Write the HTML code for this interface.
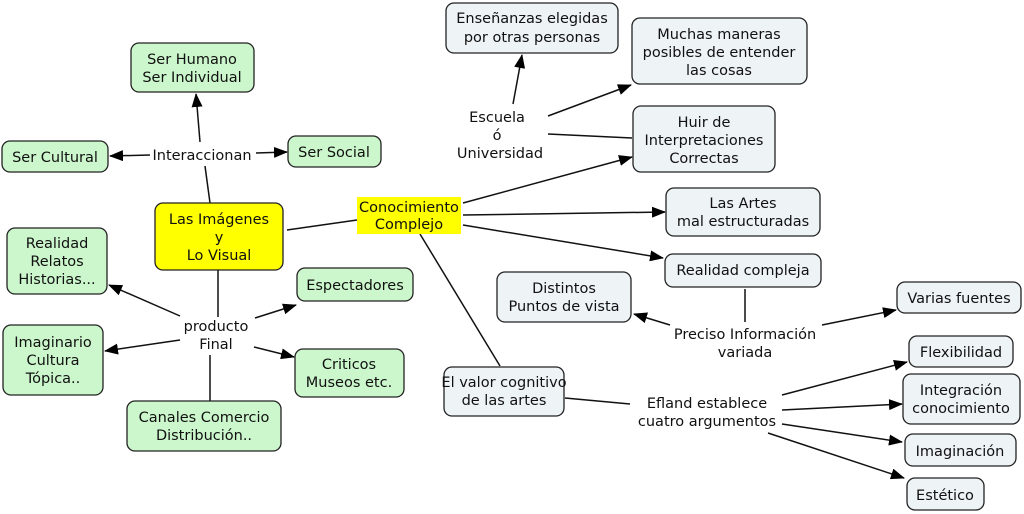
<!DOCTYPE html>
<html><head><meta charset="utf-8"><style>
html,body{margin:0;padding:0;background:#fff;}
svg{display:block}
text{font-family:"DejaVu Sans","Liberation Sans",sans-serif;font-size:14.5px;fill:#111;text-anchor:middle}
.g{fill:#ccf7cc;stroke:#222;stroke-width:1.3}
.b{fill:#eef3f6;stroke:#222;stroke-width:1.3}
.y{fill:#ffff00;stroke:#222;stroke-width:1.3}
line{stroke:#111;stroke-width:1.5}
</style></head><body>
<svg width="1024" height="514" viewBox="0 0 1024 514">
<defs><marker id="a" markerWidth="14" markerHeight="11" refX="13" refY="5.5" orient="auto" markerUnits="userSpaceOnUse"><path d="M0,0 L14,5.5 L0,11 Z" fill="#000"/></marker></defs>
<line x1="210" y1="203" x2="205" y2="166"/>
<line x1="200" y1="142" x2="196" y2="94" marker-end="url(#a)"/>
<line x1="150" y1="155" x2="110" y2="156" marker-end="url(#a)"/>
<line x1="256" y1="153" x2="287" y2="152" marker-end="url(#a)"/>
<line x1="218" y1="270" x2="218" y2="317"/>
<line x1="180" y1="316" x2="109" y2="285" marker-end="url(#a)"/>
<line x1="180" y1="340" x2="105" y2="351" marker-end="url(#a)"/>
<line x1="255" y1="318" x2="296" y2="305" marker-end="url(#a)"/>
<line x1="254" y1="347" x2="294" y2="357" marker-end="url(#a)"/>
<line x1="210" y1="355" x2="210" y2="401"/>
<line x1="287" y1="230" x2="357" y2="220"/>
<line x1="463" y1="203" x2="632" y2="157" marker-end="url(#a)"/>
<line x1="463" y1="215" x2="665" y2="212" marker-end="url(#a)"/>
<line x1="463" y1="225" x2="663" y2="258" marker-end="url(#a)"/>
<line x1="420" y1="234" x2="500" y2="366"/>
<line x1="513" y1="104" x2="522" y2="55" marker-end="url(#a)"/>
<line x1="548" y1="116" x2="631" y2="85" marker-end="url(#a)"/>
<line x1="548" y1="134" x2="632" y2="138"/>
<line x1="745" y1="289" x2="745" y2="322"/>
<line x1="670" y1="325" x2="634" y2="314" marker-end="url(#a)"/>
<line x1="822" y1="325" x2="896" y2="310" marker-end="url(#a)"/>
<line x1="565" y1="398" x2="630" y2="404"/>
<line x1="782" y1="395" x2="907" y2="362" marker-end="url(#a)"/>
<line x1="782" y1="410" x2="902" y2="404" marker-end="url(#a)"/>
<line x1="782" y1="424" x2="902" y2="442" marker-end="url(#a)"/>
<line x1="768" y1="433" x2="904" y2="478" marker-end="url(#a)"/>
<rect class="g" x="131" y="43" width="123" height="49" rx="8"/>
<text x="192" y="64">Ser Humano</text><text x="192" y="82">Ser Individual</text>
<rect class="g" x="2" y="141" width="106" height="31" rx="8"/>
<text x="55" y="162">Ser Cultural</text>
<rect class="g" x="288" y="136" width="93" height="31" rx="8"/>
<text x="334" y="157">Ser Social</text>
<rect class="y" x="155" y="203" width="128" height="67" rx="8"/>
<text x="219" y="224">Las Imágenes</text><text x="219" y="242">y</text><text x="219" y="260">Lo Visual</text>
<rect class="g" x="7" y="228" width="100" height="66" rx="8"/>
<text x="57" y="248">Realidad</text><text x="57" y="266">Relatos</text><text x="57" y="284">Historias...</text>
<rect class="g" x="297" y="268" width="116" height="33" rx="8"/>
<text x="355" y="290">Espectadores</text>
<rect class="g" x="3" y="325" width="100" height="70" rx="8"/>
<text x="53" y="347">Imaginario</text><text x="53" y="365">Cultura</text><text x="53" y="383">Tópica..</text>
<rect class="g" x="295" y="349" width="109" height="48" rx="8"/>
<text x="349" y="369">Criticos</text><text x="349" y="387">Museos etc.</text>
<rect class="g" x="127" y="401" width="154" height="50" rx="8"/>
<text x="204" y="422">Canales Comercio</text><text x="204" y="440">Distribución..</text>
<rect x="357" y="197" width="104" height="37" fill="#ffff00"/>
<text x="409" y="212">Conocimiento</text><text x="409" y="229">Complejo</text>
<rect class="b" x="446" y="3" width="172" height="50" rx="8"/>
<text x="532" y="23">Enseñanzas elegidas</text><text x="532" y="42">por otras personas</text>
<rect class="b" x="632" y="18" width="175" height="66" rx="8"/>
<text x="719" y="39">Muchas maneras</text><text x="719" y="57">posibles de entender</text><text x="719" y="75">las cosas</text>
<rect class="b" x="633" y="106" width="142" height="66" rx="8"/>
<text x="704" y="127">Huir de</text><text x="704" y="145">Interpretaciones</text><text x="704" y="163">Correctas</text>
<rect class="b" x="666" y="188" width="154" height="48" rx="8"/>
<text x="743" y="208">Las Artes</text><text x="743" y="226">mal estructuradas</text>
<rect class="b" x="665" y="254" width="156" height="33" rx="8"/>
<text x="743" y="275">Realidad compleja</text>
<rect class="b" x="497" y="272" width="134" height="50" rx="8"/>
<text x="564" y="293">Distintos</text><text x="564" y="311">Puntos de vista</text>
<rect class="b" x="897" y="282" width="124" height="31" rx="8"/>
<text x="959" y="303">Varias fuentes</text>
<rect class="b" x="444" y="367" width="120" height="49" rx="8"/>
<text x="504" y="387">El valor cognitivo</text><text x="504" y="405">de las artes</text>
<rect class="b" x="909" y="336" width="104" height="31" rx="8"/>
<text x="961" y="357">Flexibilidad</text>
<rect class="b" x="903" y="374" width="117" height="50" rx="8"/>
<text x="961" y="395">Integración</text><text x="961" y="413">conocimiento</text>
<rect class="b" x="905" y="434" width="111" height="32" rx="8"/>
<text x="960" y="456">Imaginación</text>
<rect class="b" x="907" y="478" width="77" height="32" rx="8"/>
<text x="945" y="500">Estético</text>
<text x="202" y="160">Interaccionan</text>
<text x="216" y="331">producto</text><text x="216" y="349">Final</text>
<text x="497" y="122">Escuela</text><text x="497" y="140">ó</text><text x="500" y="158">Universidad</text>
<text x="745" y="339">Preciso Información</text><text x="745" y="357">variada</text>
<text x="707" y="408">Efland establece</text><text x="707" y="426">cuatro argumentos</text>
</svg>
</body></html>
